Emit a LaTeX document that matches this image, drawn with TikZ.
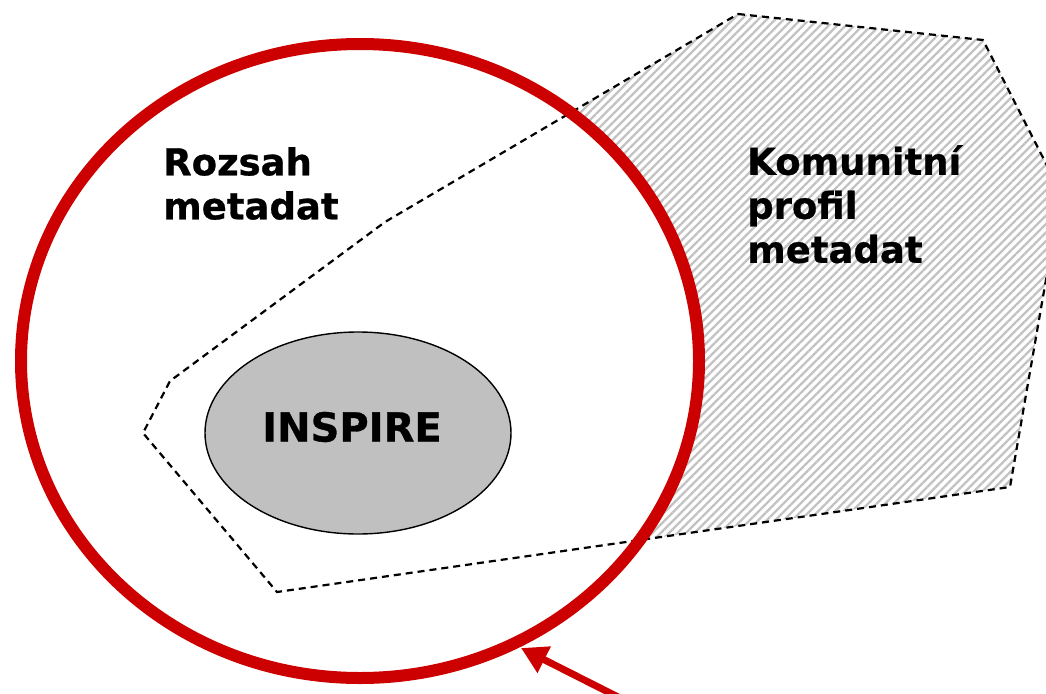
\documentclass[tikz,border=0pt]{standalone}
\usepackage{fontspec}
\setmainfont{DejaVu Sans}
\newfontfamily\heavyfont[FakeBold=0.8]{DejaVu Sans Bold}
\usetikzlibrary{patterns.meta,arrows.meta,shapes.geometric}
\definecolor{redc}{HTML}{CC0000}
\definecolor{inspgray}{HTML}{C0C0C0}
\tikzset{
  lbl/.style={inner sep=0pt, align=left, anchor=north west, font=\fontsize{37}{44}\heavyfont},
  dashpoly/.style={draw=black, line width=2.2pt, dash pattern=on 7pt off 5pt, line join=miter},
  hatch/.style={pattern={Lines[angle=45,distance=6pt,line width=2.3pt]}, pattern color=black!24},
}
\begin{document}
\begin{tikzpicture}[x=1pt,y=-1pt]
\useasboundingbox (0,0) rectangle (1046,693);
\clip (0,0) rectangle (1046,693);
% polygon corners
\coordinate (p1) at (738,14);
\coordinate (p2) at (983,40);
\coordinate (p3) at (1061,193);
\coordinate (p4) at (1010,487);
\coordinate (p5) at (277,592);
\coordinate (p6) at (143,433);
\coordinate (p7) at (170,381);
\coordinate (p8) at (385,222);
% hatched part: polygon outside the red ellipse
\begin{scope}
  \clip (p1) -- (p2) -- (p3) -- (p4) -- (p5) -- (p6) -- (p7) -- (p8) -- cycle;
  \fill[hatch] (p1) -- (p2) -- (p3) -- (p4) -- (p5) -- (p6) -- (p7) -- (p8) -- cycle;
  \fill[white] (360,361) ellipse [x radius=339pt, y radius=317pt];
\end{scope}
\draw[dashpoly] (p1) -- (p2) -- (p3) -- (p4) -- (p5) -- (p6) -- (p7) -- (p8) -- cycle;
% INSPIRE
\node[ellipse, draw=black, line width=1.4pt, fill=inspgray, minimum width=306pt, minimum height=202pt, inner sep=0pt] (inspire) at (358,433) {};
\node[inner sep=0pt, font=\fontsize{40}{44}\heavyfont] (inspiretxt) at (352,427) {INSPIRE};
% red ellipse
\node[ellipse, draw=redc, line width=12pt, minimum width=678pt, minimum height=634pt, inner sep=0pt] (rozsah) at (360,361) {};
% labels
\node[lbl] (t1) at (163,147) {Rozsah\\metadat};
\node[lbl] (t2) at (747,145) {Komunitní\\profil\\metadat};
% arrow
\coordinate (atail) at (620,698);
\coordinate (atip) at (521,648);
\draw[redc, line width=7pt, -{Triangle[length=26pt,width=28pt]}] (atail) -- (atip);
\end{tikzpicture}
\end{document}
